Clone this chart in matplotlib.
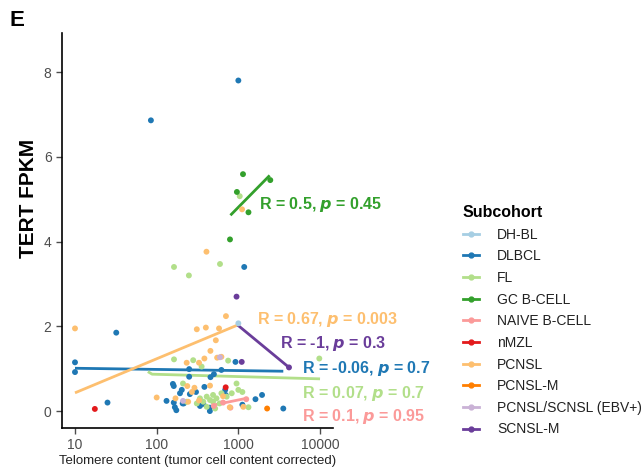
import matplotlib.pyplot as plt
from matplotlib.lines import Line2D
import numpy as np

plt.rcParams['font.family'] = ['Liberation Sans', 'DejaVu Sans']

groups = ["DH-BL", "DLBCL", "FL", "GC B-CELL", "NAIVE B-CELL", "nMZL",
          "PCNSL", "PCNSL-M", "PCNSL/SCNSL (EBV+)", "SCNSL-M"]
colors = ["#A6CEE3", "#1F78B4", "#B2DF8A", "#33A02C", "#FB9A99", "#E31A1C",
          "#FDBF6F", "#FF7F00", "#CAB2D6", "#6A3D9A"]

# telomere content (x) and TERT FPKM (y) per subcohort
dhbl_x = [1000]
dhbl_y = [2.07]

dlbcl_x = [10, 10, 32, 25, 85, 1000, 1180, 158, 162, 193, 203, 132, 162, 174, 167,
           208, 255, 303, 384, 339, 372, 448, 456, 502, 448, 620, 922, 1120, 1620,
           1950, 3550, 250, 250, 690, 700, 215]
dlbcl_y = [1.15, 0.92, 1.85, 0.2, 6.86, 7.8, 3.4, 0.64, 0.59, 0.42, 0.5, 0.24, 0.2,
           0.02, 0.09, 0.18, 0.4, 0.45, 0.57, 0.12, 0.17, 0.08, 0.8, 0.87, 0.0, 0.97,
           1.16, 0.15, 0.28, 0.38, 0.06, 0.99, 0.81, 0.5, 0.38, 0.18]

fl_x = [163, 248, 596, 1040, 9800, 163, 280, 355, 750, 950, 1120, 1330, 410, 450,
        490, 540, 590, 372, 339, 310, 233, 410, 520, 490, 620, 830, 720, 210, 1000]
fl_y = [3.4, 3.2, 3.47, 5.07, 1.24, 1.22, 1.2, 1.05, 1.19, 0.65, 0.45, 0.09, 0.34,
        0.26, 0.22, 0.3, 0.18, 0.22, 0.3, 0.18, 0.22, 0.1, 0.06, 0.38, 0.42, 0.42,
        0.34, 0.65, 0.5]

gc_x = [1140, 960, 2460, 1330, 790]
gc_y = [5.59, 5.17, 5.45, 4.69, 4.05]

naive_x = [500, 650, 800, 1250]
naive_y = [0.12, 0.2, 0.08, 0.28]

nmzl_x = [17.5, 700]
nmzl_y = [0.05, 0.56]

pcnsl_x = [10, 407, 1110, 705, 310, 400, 580, 530, 455, 550, 620, 233, 330, 384,
           100, 237, 243, 785, 290, 270, 330, 450, 650, 170, 1150]
pcnsl_y = [1.95, 3.76, 4.76, 2.24, 1.93, 1.97, 1.95, 1.67, 1.42, 1.26, 1.28, 1.14,
           1.14, 1.24, 0.32, 0.59, 0.22, 0.09, 0.55, 0.45, 0.25, 0.6, 0.35, 0.3, 0.1]

pcnslm_x = [2250]
pcnslm_y = [0.06]

ebv_x = [595, 210]
ebv_y = [1.27, 0.24]

scnslm_x = [950, 1100, 4170]
scnslm_y = [2.7, 1.16, 1.03]

group_x = [dhbl_x, dlbcl_x, fl_x, gc_x, naive_x, nmzl_x, pcnsl_x, pcnslm_x, ebv_x, scnslm_x]
group_y = [dhbl_y, dlbcl_y, fl_y, gc_y, naive_y, nmzl_y, pcnsl_y, pcnslm_y, ebv_y, scnslm_y]

# regression lines (endpoints)
fits = {
    "DLBCL": ([10, 3550], [1.01, 0.94]),
    "FL": ([78, 88, 10000], [0.93, 0.87, 0.76]),
    "GC B-CELL": ([800, 2420], [4.62, 5.56]),
    "NAIVE B-CELL": ([490, 1250], [0.14, 0.3]),
    "PCNSL": ([10, 980], [0.43, 2.03]),
    "SCNSL-M": ([980, 4170], [2.03, 1.03]),
}

# correlation labels
stat_groups = ["GC B-CELL", "PCNSL", "SCNSL-M", "DLBCL", "FL", "NAIVE B-CELL"]
stat_r = ["0.5", "0.67", "-1", "-0.06", "0.07", "0.1"]
stat_p = ["0.45", "0.003", "0.3", "0.7", "0.7", "0.95"]
stat_x = [1780, 1690, 3230, 6000, 6000, 6000]
stat_y = [4.88, 2.17, 1.6, 1.01, 0.42, -0.12]

fig = plt.figure(figsize=(6.43, 4.72), dpi=100)
ax = fig.add_axes([0.0964, 0.0932, 0.4215, 0.8368])

for name, c, xs, ys in zip(groups, colors, group_x, group_y):
    ax.scatter(xs, ys, s=18, color=c, edgecolors='none', zorder=3)

for name, (lx, ly) in fits.items():
    c = colors[groups.index(name)]
    ax.plot(lx, ly, color=c, lw=2, zorder=2, solid_capstyle='butt')

for g, r, p, tx, ty in zip(stat_groups, stat_r, stat_p, stat_x, stat_y):
    c = colors[groups.index(g)]
    ax.text(tx, ty, f"R = {r}, $\\boldsymbol{{p}}$ = {p}", color=c, fontsize=11.5,
            fontweight='bold', va='center', ha='left', zorder=4)

ax.set_xscale('log')
ax.set_xlim(6.93, 14420)
ax.set_ylim(-0.4, 8.92)
ax.set_xticks([10, 100, 1000, 10000])
ax.set_xticklabels(["10", "100", "1000", "10000"])
ax.set_yticks([0, 2, 4, 6, 8])
ax.minorticks_off()
ax.tick_params(colors='#4D4D4D', labelsize=10, length=4, width=1)
for s in ['top', 'right']:
    ax.spines[s].set_visible(False)
for s in ['left', 'bottom']:
    ax.spines[s].set_linewidth(1.2)
    ax.spines[s].set_color('black')

ax.set_ylabel("TERT FPKM", fontsize=15, fontweight='bold')
ax.yaxis.set_label_coords(-0.09, 0.58)
ax.set_xlabel("Telomere content (tumor cell content corrected)", fontsize=9.5,
              color='#222222', labelpad=2)

fig.text(0.014, 0.978, "E", fontsize=16, fontweight='bold', va='top')

handles = [Line2D([0], [0], color=c, lw=2, marker='o', markersize=3.5) for c in colors]
leg = fig.legend(handles, groups, title="Subcohort", loc='upper left',
                 bbox_to_anchor=(0.70, 0.592), frameon=False, fontsize=10,
                 title_fontproperties={'weight': 'bold', 'size': 11.5},
                 handlelength=1.2, handletextpad=1.3, labelspacing=0.55)
leg._legend_box.align = "left"
for t in leg.get_texts():
    t.set_color('#222222')

fig.savefig("out.png", dpi=100)
